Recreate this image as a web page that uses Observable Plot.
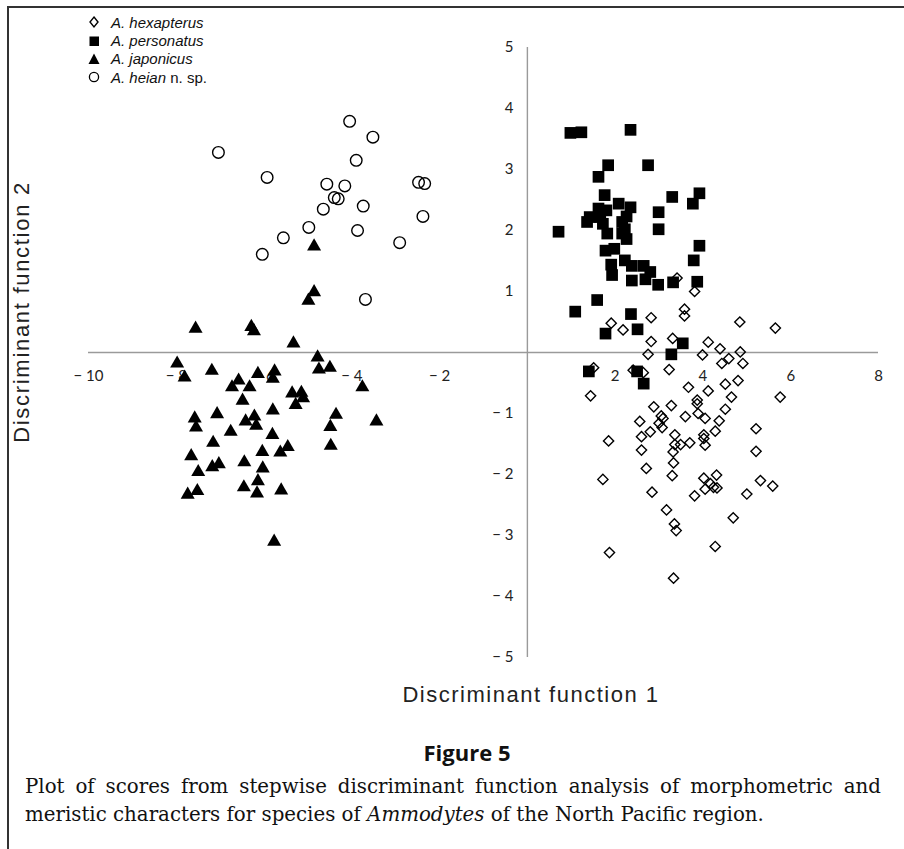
<!DOCTYPE html>
<html><head><meta charset="utf-8">
<script src="https://cdn.jsdelivr.net/npm/d3@7"></script>
<script src="https://cdn.jsdelivr.net/npm/@observablehq/plot@0.6"></script>
<style>
body{margin:0;background:#fff;}
#fig{position:relative;width:904px;height:849px;overflow:hidden;background:#fff;}
#fig svg{position:absolute;left:0;top:0;}
.bl{position:absolute;left:7px;top:6px;width:2px;height:843px;background:#333;}
.bt{position:absolute;left:7px;top:6px;width:897px;height:2px;background:#333;}
#legend{position:absolute;left:86px;top:13px;font-family:"Liberation Sans",Arial,sans-serif;font-size:15px;color:#111;}
#legend .row{height:18.4px;display:flex;align-items:center;}
#legend .sym{width:20px;height:18px;display:inline-block;}
#legend .sym svg{position:static;}
#legend i{margin-left:5px;}
.xt{position:absolute;left:324px;width:414px;top:682px;text-align:center;font-family:"Liberation Sans",Arial,sans-serif;font-size:22px;letter-spacing:1.5px;color:#222;}
.yt{position:absolute;left:22px;top:312px;transform:translate(-50%,-50%) rotate(-90deg);white-space:nowrap;font-family:"Liberation Sans",Arial,sans-serif;font-size:22px;letter-spacing:1.7px;color:#222;}
.ft{position:absolute;left:267px;width:400px;top:737px;text-align:center;font-family:"Open Sans",sans-serif;font-weight:700;font-size:22px;color:#111;}
.cap{position:absolute;left:25px;width:856px;font-family:"DejaVu Serif",serif;font-size:19.8px;color:#111;white-space:nowrap;}
.cap1{top:775px;text-align:justify;text-align-last:justify;}
.cap2{top:803px;}
</style></head>
<body>
<div id="fig">
  <div class="bl"></div><div class="bt"></div>
</div>
<script>
const speciesNames = ["A. hexapterus", "A. personatus", "A. japonicus", "A. heian"];
const xTicks = [-10, -8, -6, -4, -2, 2, 4, 6, 8];
const yTicks = [-5, -4, -3, -2, -1, 1, 2, 3, 4, 5];

const hexapterus = [
[3.41,1.22],[3.81,1.00],[3.58,0.71],[3.58,0.60],[2.82,0.57],[1.91,0.48],[2.18,0.37],
[4.84,0.50],[5.65,0.40],[2.82,0.18],[3.31,0.23],[4.12,0.17],[4.39,0.06],[4.85,0.01],
[2.75,-0.03],[3.99,-0.04],[4.59,-0.10],[4.43,-0.18],[4.91,-0.18],[1.51,-0.25],[2.41,-0.29],[2.64,-0.33],[3.23,-0.28],
[3.67,-0.57],[4.12,-0.63],[4.51,-0.52],[4.80,-0.46],[4.65,-0.73],[5.76,-0.73],[1.44,-0.71],
[2.88,-0.89],[3.28,-0.87],[3.87,-0.78],[3.87,-0.84],[3.89,-1.00],[4.05,-1.08],[4.51,-0.93],
[3.05,-1.04],[3.09,-1.08],[3.60,-1.05],[2.56,-1.13],[3.00,-1.16],[3.07,-1.23],[4.37,-1.12],
[2.80,-1.30],[5.21,-1.25],[1.85,-1.45],[2.60,-1.38],[3.36,-1.35],[4.02,-1.35],[4.02,-1.41],[4.28,-1.29],
[3.36,-1.51],[3.49,-1.51],[3.70,-1.48],[4.05,-1.52],[2.60,-1.60],[3.32,-1.63],[5.21,-1.62],
[3.33,-1.81],[2.71,-1.90],[1.72,-2.08],[3.30,-2.02],[4.02,-2.06],[4.31,-2.01],[5.31,-2.10],
[4.17,-2.15],[4.24,-2.21],[4.05,-2.24],[4.32,-2.22],[5.59,-2.19],[2.84,-2.29],[3.81,-2.35],[5.00,-2.32],
[3.17,-2.58],[4.69,-2.71],[3.35,-2.81],[3.39,-2.92],[4.28,-3.18],[1.87,-3.28],[3.33,-3.70]
];
const personatus = [
[0.98,3.60],[1.23,3.61],[2.35,3.65],[1.84,3.07],[2.75,3.07],[1.62,2.88],[1.76,2.58],[3.30,2.55],[3.92,2.61],[3.77,2.44],
[2.08,2.44],[2.35,2.38],[2.99,2.30],[1.62,2.36],[1.80,2.33],[1.42,2.22],[1.36,2.14],[1.66,2.22],[2.26,2.23],[2.16,2.14],
[0.71,1.98],[1.72,2.11],[2.22,2.02],[2.99,2.02],[1.82,1.95],[2.16,1.95],[2.26,1.86],[3.92,1.75],[1.78,1.67],[1.98,1.70],
[3.79,1.51],[1.91,1.44],[2.22,1.51],[2.38,1.42],[2.65,1.42],[2.80,1.32],[1.93,1.27],[2.38,1.18],[2.69,1.20],[2.98,1.11],
[3.32,1.15],[3.87,1.16],[1.59,0.86],[1.09,0.67],[2.36,0.63],[1.78,0.31],[2.51,0.38],[3.54,0.15],[3.28,-0.03],[1.40,-0.31],
[2.50,-0.31],[2.65,-0.51]
];
const japonicus = [
[-4.86,1.74],[-4.86,0.99],[-4.99,0.85],[-7.56,0.39],[-6.29,0.42],[-6.23,0.35],[-5.33,0.15],[-7.98,-0.18],[-7.81,-0.41],[-7.19,-0.30],
[-4.78,-0.08],[-4.75,-0.28],[-4.50,-0.25],[-6.14,-0.35],[-5.76,-0.31],[-5.80,-0.43],[-6.58,-0.46],[-6.73,-0.57],[-6.33,-0.57],[-3.76,-0.57],
[-6.49,-0.79],[-5.36,-0.67],[-5.15,-0.66],[-5.11,-0.75],[-5.28,-0.86],[-5.80,-0.95],[-7.07,-1.01],[-7.58,-1.08],[-7.55,-1.23],[-4.36,-1.02],
[-4.49,-1.22],[-3.44,-1.13],[-6.22,-1.05],[-6.42,-1.13],[-6.18,-1.20],[-6.76,-1.30],[-5.81,-1.35],[-7.16,-1.48],[-4.48,-1.53],[-5.46,-1.55],
[-5.63,-1.64],[-6.04,-1.63],[-7.66,-1.70],[-6.45,-1.80],[-7.18,-1.88],[-7.03,-1.83],[-7.50,-1.96],[-6.03,-1.90],[-6.14,-2.11],[-6.46,-2.21],
[-6.16,-2.31],[-5.61,-2.26],[-7.52,-2.27],[-7.74,-2.33],[-5.77,-3.10]
];
const heian = [
[-4.05,3.79],[-3.52,3.53],[-7.04,3.28],[-3.90,3.15],[-5.93,2.87],[-4.57,2.76],[-4.16,2.73],[-2.48,2.79],[-2.34,2.77],[-4.40,2.54],
[-4.31,2.52],[-4.65,2.35],[-3.74,2.40],[-2.38,2.23],[-4.98,2.05],[-3.87,2.00],[-5.56,1.88],[-2.91,1.80],[-6.04,1.61],[-3.69,0.87]
];

const fmt = d => d < 0 ? "\u2212 " + Math.abs(d) : String(d);
const tickFont = {fontFamily: "Lato, 'Open Sans', sans-serif", fontSize: 15, fill: "#222"};

const chart = Plot.plot({
  width: 904, height: 720,
  marginLeft: 88, marginRight: 26, marginTop: 47, marginBottom: 63,
  x: {domain: [-10, 8], axis: null},
  y: {domain: [-5, 5], axis: null},
  style: {background: "transparent", overflow: "visible"},
  marks: [
    Plot.ruleY([0], {stroke: "#9a9a9a", strokeWidth: 1.4}),
    Plot.ruleX([0], {stroke: "#9a9a9a", strokeWidth: 1.4}),
    Plot.text(xTicks, {x: d => d, y: 0, dy: 24, text: fmt, ...tickFont}),
    Plot.text(yTicks, {x: 0, y: d => d, dx: -14, textAnchor: "end", text: fmt, ...tickFont}),
    Plot.dot(heian, {x: d => d[0], y: d => d[1], symbol: "circle", r: 5.8, stroke: "#000", strokeWidth: 1.4, fill: "none"}),
    Plot.dot(japonicus, {x: d => d[0], y: d => d[1], symbol: "triangle", r: 5.2, fill: "#000", stroke: "none"}),
    Plot.dot(personatus, {x: d => d[0], y: d => d[1], symbol: "square", r: 6.6, fill: "#000", stroke: "none"}),
    Plot.dot(hexapterus, {x: d => d[0], y: d => d[1], symbol: "diamond2", r: 4.6, stroke: "#000", strokeWidth: 1.4, fill: "none"})
  ]
});
const fig = document.getElementById("fig");
fig.appendChild(chart);

// legend
const symSvg = {
  "A. hexapterus": '<svg width="20" height="18"><path d="M8,4 L12,9 L8,14 L4,9 Z" fill="none" stroke="#000" stroke-width="1.4"/></svg>',
  "A. personatus": '<svg width="20" height="18"><rect x="3.5" y="4.5" width="9.5" height="9.5" fill="#000"/></svg>',
  "A. japonicus": '<svg width="20" height="18"><path d="M8,3.5 L13.5,14 L2.5,14 Z" fill="#000"/></svg>',
  "A. heian": '<svg width="20" height="18"><circle cx="8" cy="9" r="4.6" fill="none" stroke="#000" stroke-width="1.3"/></svg>'
};
const legend = document.createElement("div");
legend.id = "legend";
legend.innerHTML = speciesNames.map(n =>
  `<div class="row"><span class="sym">${symSvg[n]}</span><i>${n}</i>${n === "A. heian" ? "&nbsp;n. sp." : ""}</div>`
).join("");
fig.appendChild(legend);

fig.insertAdjacentHTML("beforeend",
  '<div class="xt">Discriminant function 1</div>' +
  '<div class="yt">Discriminant function 2</div>' +
  '<div class="ft">Figure 5</div>' +
  '<div class="cap cap1">Plot of scores from stepwise discriminant function analysis of morphometric and</div>' +
  '<div class="cap cap2">meristic characters for species of <i>Ammodytes</i> of the North Pacific region.</div>');
</script>
</body></html>
